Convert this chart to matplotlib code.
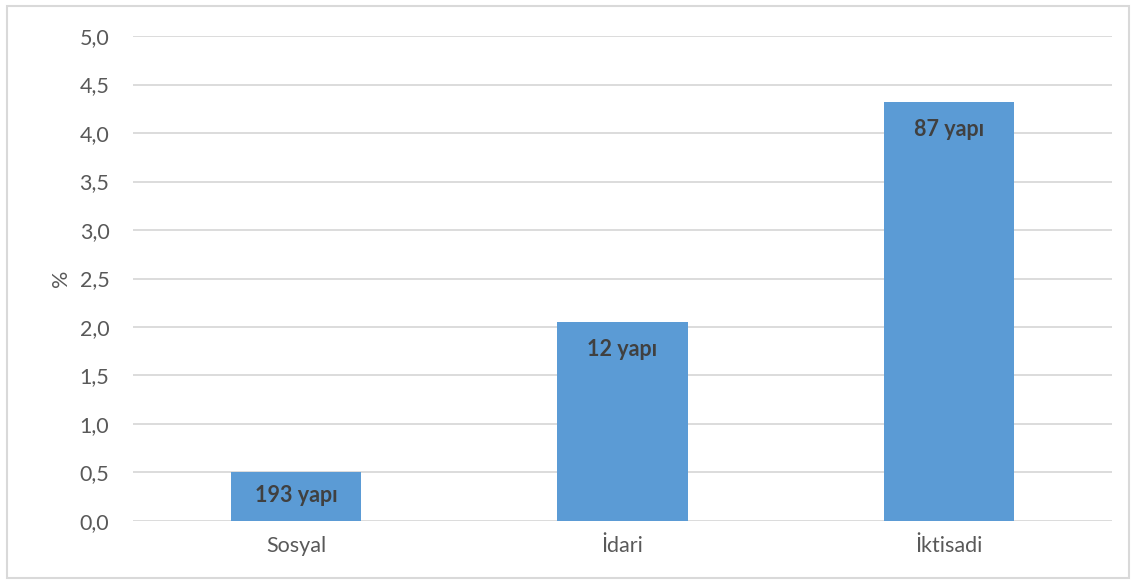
import numpy as np
import matplotlib.pyplot as plt
from matplotlib.patches import Rectangle

categories = ['Sosyal', 'İdari', 'İktisadi']
values = [0.5, 2.05, 4.32]
bar_labels = ['193 yapı', '12 yapı', '87 yapı']
y_ticks = [0.0, 0.5, 1.0, 1.5, 2.0, 2.5, 3.0, 3.5, 4.0, 4.5, 5.0]
y_ticklabels = ['0,0', '0,5', '1,0', '1,5', '2,0', '2,5', '3,0', '3,5', '4,0', '4,5', '5,0']

plt.rcParams['font.family'] = ['Lato', 'DejaVu Sans']

fig = plt.figure(figsize=(11.34, 5.81), dpi=100)
ax = fig.add_axes([0.1173, 0.1033, 0.8633, 0.8347])

x = np.arange(len(categories))
bars = ax.bar(x, values, width=0.4, color='#5b9bd5', zorder=3)

for b, lab in zip(bars, bar_labels):
    # short bars keep the label a bit higher, like excel does
    off = -20 if b.get_height() > 1 else -16.5
    ax.annotate(lab, (b.get_x() + b.get_width() / 2, b.get_height()),
                xytext=(0, off), textcoords='offset points',
                ha='center', va='center', fontsize=15.5, fontweight='bold',
                color='#404040', zorder=4)

ax.set_xlim(-0.5, 2.5)
ax.set_ylim(0, 5.0)
ax.set_yticks(y_ticks)
ax.set_yticklabels(y_ticklabels)
ax.set_xticks(x)
ax.set_xticklabels(categories)
ax.tick_params(axis='both', length=0, labelsize=15.5, labelcolor='#595959')
ax.tick_params(axis='y', pad=17)
ax.tick_params(axis='x', pad=11)
ax.grid(axis='y', color='#d9d9d9', lw=1.3, zorder=0)
for s in ax.spines.values():
    s.set_visible(False)

ax.set_ylabel('%', fontsize=15.5, color='#595959', labelpad=6)

# light outer frame
fig.patches.append(Rectangle((0.006, 0.005), 0.99, 0.985, transform=fig.transFigure,
                             fill=False, edgecolor='#d9d9d9', lw=1.5))

fig.savefig('out.png', dpi=100)
